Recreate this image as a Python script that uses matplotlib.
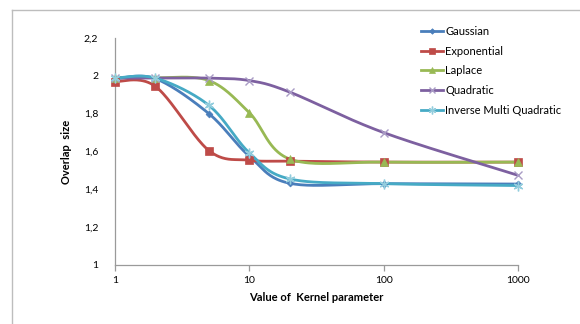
import numpy as np
import matplotlib
matplotlib.use("Agg")
import matplotlib.pyplot as plt
from matplotlib.lines import Line2D
from matplotlib.ticker import FixedLocator, FixedFormatter, NullLocator

plt.rcParams['font.family'] = ['Lato', 'DejaVu Sans']

kernel_param = [1, 2, 5, 10, 20, 100, 1000]
gaussian = [1.985, 1.985, 1.80, 1.575, 1.432, 1.430, 1.428]
exponential = [1.970, 1.944, 1.605, 1.554, 1.549, 1.544, 1.544]
laplace = [1.990, 1.990, 1.975, 1.805, 1.560, 1.544, 1.544]
quadratic = [1.988, 1.988, 1.988, 1.975, 1.914, 1.700, 1.474]
inv_multi_quad = [1.988, 1.988, 1.844, 1.593, 1.455, 1.430, 1.420]

series = [
    ("Gaussian", gaussian, "#4A7EBB", "D", 3.5, "#4A7EBB"),
    ("Exponential", exponential, "#BE4B48", "s", 6, "#BE4B48"),
    ("Laplace", laplace, "#98B954", "^", 6, "#98B954"),
    ("Quadratic", quadratic, "#7D60A0", "x", 6, "#A99BC5"),
    ("Inverse Multi Quadratic", inv_multi_quad, "#46AAC5", (6, 2, 0), 7, "#93CDDD"),
]

y_ticks = [1, 1.2, 1.4, 1.6, 1.8, 2, 2.2]
y_tick_labels = ["1", "1,2", "1,4", "1,6", "1,8", "2", "2,2"]
x_ticks = [1, 10, 100, 1000]
x_tick_labels = ["1", "10", "100", "1000"]


def smooth(xs, ys, n=40, t=1.0 / 6.0):
    u = np.log10(np.asarray(xs, float))
    v = np.asarray(ys, float)
    P = np.column_stack([u, v])
    out = []
    m = len(P)
    for i in range(m - 1):
        p0 = P[i - 1] if i > 0 else P[i]
        p1 = P[i]
        p2 = P[i + 1]
        p3 = P[i + 2] if i + 2 < m else P[i + 1]
        c1 = p1 + (p2 - p0) * t
        c2 = p2 - (p3 - p1) * t
        s = np.linspace(0, 1, n)[:, None]
        b = ((1 - s) ** 3) * p1 + 3 * ((1 - s) ** 2) * s * c1 + 3 * (1 - s) * s ** 2 * c2 + s ** 3 * p2
        out.append(b if i == 0 else b[1:])
    B = np.vstack(out)
    return 10 ** B[:, 0], B[:, 1]


fig = plt.figure(figsize=(5.8, 3.24), dpi=100)
ax = fig.add_axes([115 / 580, 1 - 265 / 324, (518 - 115) / 580, (265 - 38) / 324])

handles = []
for name, vals, col, mk, ms, mcol in series:
    sx, sy = smooth(kernel_param, vals)
    ax.plot(sx, sy, color=col, lw=2.0, solid_capstyle='round', zorder=3)
    mew = 1.0 if mk in ("x",) or isinstance(mk, tuple) else 0.5
    ax.plot(kernel_param, vals, linestyle='none', marker=mk, markersize=ms,
            color=mcol, markeredgecolor=mcol, markeredgewidth=mew, zorder=4, clip_on=False)
    handles.append(Line2D([0], [0], color=col, lw=2.0, marker=mk, markersize=ms * 0.8,
                          markerfacecolor=mcol, markeredgecolor=mcol, markeredgewidth=mew))

ax.set_xscale('log')
ax.set_xlim(1, 1000)
ax.set_ylim(1, 2.2)
ax.xaxis.set_major_locator(FixedLocator(x_ticks))
ax.xaxis.set_major_formatter(FixedFormatter(x_tick_labels))
ax.xaxis.set_minor_locator(NullLocator())
ax.yaxis.set_major_locator(FixedLocator(y_ticks))
ax.yaxis.set_major_formatter(FixedFormatter(y_tick_labels))

for sp in ['top', 'right']:
    ax.spines[sp].set_visible(False)
for sp in ['left', 'bottom']:
    ax.spines[sp].set_color('#9A9A9A')
    ax.spines[sp].set_linewidth(0.9)

ax.tick_params(axis='y', length=0, pad=12, labelsize=7.5, colors='#000000')
ax.tick_params(axis='x', length=4, width=0.9, color='#9A9A9A', direction='out', pad=4,
               labelsize=7.5, labelcolor='#000000')

ax.set_xlabel("Value of  Kernel parameter", fontsize=8, fontweight='bold', labelpad=5)
ax.set_ylabel("Overlap  size", fontsize=8, fontweight='bold', labelpad=8.5)

leg = fig.legend(handles, [s[0] for s in series], loc='upper left',
                 bbox_to_anchor=(421 / 580, 1 - 26 / 324), frameon=False,
                 fontsize=8, handlelength=2.0, handletextpad=0.2, labelspacing=0.78,
                 borderaxespad=0, borderpad=0)

# chart-area border (Excel style)
fig.add_artist(Line2D([12 / 580, 12 / 580], [0, 1 - 10 / 324], transform=fig.transFigure,
                      color='#BDBDBD', lw=1.0))
fig.add_artist(Line2D([12 / 580, 1], [1 - 10 / 324, 1 - 10 / 324], transform=fig.transFigure,
                      color='#BDBDBD', lw=1.0))

fig.savefig("out.png", dpi=100)
